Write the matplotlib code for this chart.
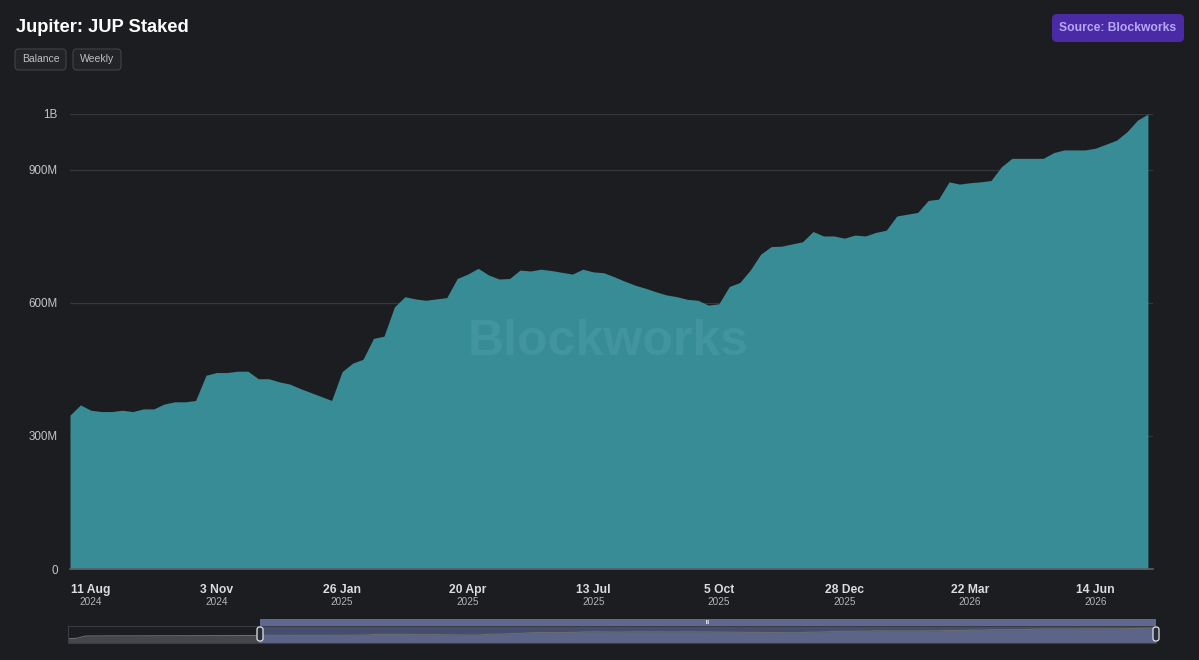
import numpy as np
import pandas as pd
import matplotlib
matplotlib.use('Agg')
import matplotlib.pyplot as plt
from matplotlib.patches import FancyBboxPatch, Rectangle

plt.rcParams['font.family'] = ['Liberation Sans', 'DejaVu Sans']

# weekly JUP staked balance, millions
start_date = '2024-07-28'
staked_m = [347, 370, 358, 355, 355, 358, 355, 361, 361, 372, 377, 377, 380, 437, 443, 443,
            446, 446, 429, 429, 422, 417, 407, 398, 389, 380, 445, 464, 473, 520, 525, 591,
            614, 609, 606, 609, 612, 655, 665, 678, 663, 654, 655, 674, 672, 676, 673, 669,
            665, 676, 670, 668, 659, 649, 640, 633, 625, 618, 614, 608, 606, 595, 598, 637,
            646, 674, 710, 727, 728, 733, 738, 761, 751, 751, 746, 753, 751, 759, 764, 796,
            800, 804, 831, 834, 873, 868, 871, 873, 876, 907, 926, 926, 926, 926, 939, 945,
            945, 945, 949, 958, 967, 986, 1012, 1026]
# earlier history, only seen in the navigator
pre_staked_m = [60, 90, 300, 305, 308, 310, 312, 314, 315, 316, 318, 320, 322, 324, 326,
                328, 330, 332, 334, 336, 340, 344]

tick_dates = ['2024-08-11', '2024-11-03', '2025-01-26', '2025-04-20', '2025-07-13',
              '2025-10-05', '2025-12-28', '2026-03-22', '2026-06-14']
y_ticks_m = [0, 300, 600, 900]
y_tick_labels = ['0', '300M', '600M', '900M']

BG = '#1c1d21'
FILL = '#388c96'
GRID = '#36373c'
TXT = '#c4c4c6'

dates = pd.date_range(start_date, periods=len(staked_m), freq='7D')
vals = np.array(staked_m) * 1e6
pre_dates = pd.date_range(end=dates[0] - pd.Timedelta(days=7), periods=len(pre_staked_m), freq='7D')
all_dates = pre_dates.append(dates)
all_vals = np.concatenate([np.array(pre_staked_m) * 1e6, vals])

W, H = 1199, 660
fig = plt.figure(figsize=(W / 100, H / 100), dpi=100, facecolor=BG)


def px(x0, y0, x1, y1):
    return [x0 / W, 1 - y1 / H, (x1 - x0) / W, (y1 - y0) / H]


# main chart
ax = fig.add_axes(px(70, 114, 1153, 569))
ax.set_facecolor(BG)
ax.fill_between(dates, vals, 0, color=FILL, lw=0, zorder=2)
ymax = vals.max()
ax.set_ylim(0, ymax)
ax.set_xlim(dates[0], dates[-1] + pd.Timedelta(days=3.4))
ax.set_yticks([v * 1e6 for v in y_ticks_m] + [ymax])
ax.set_yticklabels(y_tick_labels + ['1B'])
ax.grid(axis='y', color=GRID, lw=0.9, zorder=3)
ax.grid(axis='x', visible=False)
for s in ['top', 'right', 'left']:
    ax.spines[s].set_visible(False)
ax.spines['bottom'].set_color('#5d5e63')
ax.spines['bottom'].set_linewidth(1.2)
ax.spines['bottom'].set_zorder(4)
ax.tick_params(axis='y', length=0, pad=9, labelsize=8.4, labelcolor=TXT)

tds = pd.to_datetime(tick_dates)
ax.set_xticks(tds)
ax.set_xticklabels([d.strftime('%-d %b') for d in tds], fontweight='bold')
ax.tick_params(axis='x', length=0, pad=11, labelsize=8.7, labelcolor='#dcdcde')
for d in tds:
    ax.annotate(d.strftime('%Y'), xy=(d, 0), xycoords=('data', 'axes fraction'),
                xytext=(0, -23.5), textcoords='offset points', ha='center', va='center',
                fontsize=7.2, color='#b4b4b6')

ax.text(0.497, 0.498, 'Blockworks', transform=ax.transAxes, ha='center', va='center',
        fontsize=36, fontweight='bold', color='#42959f', zorder=2.5)

# navigator
nav = fig.add_axes(px(68, 626, 1156, 643))
nav.set_facecolor(BG)
nav_lo, nav_hi = -330e6, 1.2e9
nav.fill_between(all_dates, all_vals, nav_lo, color='#45464c', lw=0)
nav.plot(all_dates, all_vals, color='#6a6b71', lw=0.8)
nav.set_xlim(all_dates[0], all_dates[-1])
nav.set_ylim(nav_lo, nav_hi)
nav.axvspan(dates[0], all_dates[-1], color='#7a8cd0', alpha=0.45, lw=0)
nav.set_xticks([])
nav.set_yticks([])
for s in nav.spines.values():
    s.set_color('#3b3c41')
    s.set_linewidth(0.8)

# header, badge and navigator decorations in pixel coords
ui = fig.add_axes([0, 0, 1, 1], facecolor='none')
ui.set_xlim(0, W)
ui.set_ylim(H, 0)
ui.axis('off')

ui.text(16, 28, 'Jupiter: JUP Staked', ha='left', va='center', fontsize=13.2,
        fontweight='bold', color='white')

for x0, x1, label in [(15, 66, 'Balance'), (73, 121, 'Weekly')]:
    ui.add_patch(FancyBboxPatch((x0, 49), x1 - x0, 21, boxstyle='round,pad=0,rounding_size=4',
                                fc='#232428', ec='#3e3f44', lw=0.9))
    ui.text((x0 + x1) / 2, 59.5, label, ha='center', va='center', fontsize=7.5, color='#c0c0c2')

ui.add_patch(FancyBboxPatch((1052, 14), 132, 28, boxstyle='round,pad=0,rounding_size=5',
                            fc='#4b2aa6', ec='none'))
ui.text(1118, 28, 'Source: Blockworks', ha='center', va='center', fontsize=8.7,
        fontweight='bold', color='#b7a8f7')

ui.add_patch(Rectangle((260, 619), 896, 7, fc='#5e6891', ec='none'))
ui.text(708, 622.3, 'III', ha='center', va='center', fontsize=3.5, color='#e6e8f0',
        fontweight='bold')
for hx in [260, 1156]:
    ui.add_patch(FancyBboxPatch((hx - 3, 627), 6, 14, boxstyle='round,pad=0,rounding_size=2.5',
                                fc='#2b2d36', ec='#e2e4ea', lw=0.9))

fig.savefig('out.png', dpi=100, facecolor=BG)
